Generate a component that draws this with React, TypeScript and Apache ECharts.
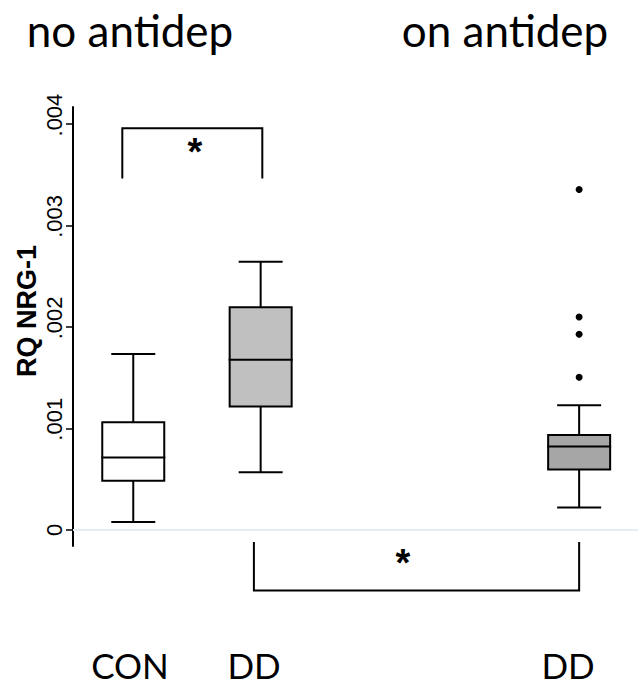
import React, { useEffect, useRef } from "react";
import * as echarts from "echarts";

// ---- data ----
const groups = ["CON", "DD", "DD"];
const groupPos = [1, 2, 4.5];
const whiskerLow = [0.000076, 0.000568, 0.00022];
const q1 = [0.000483, 0.001215, 0.000594];
const median = [0.000712, 0.001678, 0.000821];
const q3 = [0.001061, 0.002194, 0.000936];
const whiskerHigh = [0.001734, 0.002644, 0.001228];
const outlierGroup = [2, 2, 2, 2];
const outlierValues = [0.003357, 0.002099, 0.001928, 0.001504];
const yTicks = [0, 0.001, 0.002, 0.003, 0.004];
const gridValues = [0, 0.001, 0.002, 0.003];
const panelTitles = ["no antidep", "on antidep"];
const yTitle = "RQ NRG-1";
// significance brackets (positions in data units)
const bracketFrom = [0.914, 1.947];
const bracketTo = [2.013, 4.5];
const bracketBar = [0.00396, -0.000598];
const bracketEnd = [0.003465, -0.000121];
const starX = [1.484, 3.117];
const starY = [0.003764, -0.000286];
const bracketLabels = ["*", "*"];

// ---- styles ----
const boxFills = ["#ffffff", "#c0c0c0", "#a6a6a6"];
const SANS = "'Liberation Sans', Arial, sans-serif";
const NARROW = "'Liberation Sans Narrow', 'Arial Narrow', 'Liberation Sans', sans-serif";
const TITLE_FONT = "Lato, 'Open Sans', sans-serif";

export default function App() {
  const ref = useRef<HTMLDivElement>(null);

  useEffect(() => {
    if (!ref.current) return;
    const chart = echarts.init(ref.current, null, { renderer: "svg" });

    const boxData = groups.map((g, i) => [
      groupPos[i],
      whiskerLow[i],
      q1[i],
      median[i],
      q3[i],
      whiskerHigh[i],
      i,
    ]);

    const outlierData = outlierValues.map((v, i) => [groupPos[outlierGroup[i]], v]);

    const bracketData = bracketFrom.map((x1, i) => [
      x1,
      bracketTo[i],
      bracketBar[i],
      bracketEnd[i],
      starX[i],
      starY[i],
      i,
    ]);

    const option: any = {
      animation: false,
      backgroundColor: "#ffffff",
      grid: { left: 73, right: 0, top: 107, bottom: 141, containLabel: false },
      xAxis: {
        type: "value",
        min: 0.527,
        max: 4.962,
        show: false,
        splitLine: { show: false },
      },
      yAxis: {
        type: "value",
        min: -0.00016,
        max: 0.00417,
        axisLine: { show: true, onZero: false, lineStyle: { color: "#000", width: 2 } },
        axisTick: {
          show: true,
          customValues: yTicks,
          length: 7,
          lineStyle: { color: "#000", width: 1.5 },
        },
        axisLabel: {
          show: true,
          customValues: yTicks,
          rotate: 90,
          margin: 8,
          color: "#000",
          fontSize: 22,
          fontFamily: NARROW,
          formatter: (v: number) =>
            v === 0 ? "0" : "\u00a0\u00a0\u00a0" + String(v).replace(/^0/, ""),
        },
        splitLine: { show: false },
      },
      graphic: [
        {
          type: "text",
          x: 130,
          y: 30,
          style: {
            text: panelTitles[0],
            font: `44px ${TITLE_FONT}`,
            fill: "#000",
            textAlign: "center",
            textVerticalAlign: "middle",
          },
        },
        {
          type: "text",
          x: 505,
          y: 30,
          style: {
            text: panelTitles[1],
            font: `44px ${TITLE_FONT}`,
            fill: "#000",
            textAlign: "center",
            textVerticalAlign: "middle",
          },
        },
        {
          type: "text",
          x: 27,
          y: 311,
          rotation: Math.PI / 2,
          style: {
            text: yTitle,
            font: `bold 27px ${SANS}`,
            fill: "#000",
            textAlign: "center",
            textVerticalAlign: "middle",
          },
        },
        ...[130, 254, 568].map((cx, i) => ({
          type: "text",
          x: cx,
          y: 665,
          style: {
            text: groups[i],
            font: `35px ${TITLE_FONT}`,
            fill: "#000",
            textAlign: "center",
            textVerticalAlign: "middle",
          },
        })),
      ],
      series: [
        {
          type: "scatter",
          data: [],
          silent: true,
          markLine: {
            silent: true,
            symbol: "none",
            label: { show: false },
            lineStyle: { color: "#e6edf2", width: 2, type: "solid" },
            data: gridValues.map((v) => ({ yAxis: v })),
          },
        },
        {
          type: "custom",
          clip: false,
          data: boxData,
          renderItem: (params: any, api: any) => {
            const x = api.value(0);
            const pLo = api.coord([x, api.value(1)]);
            const pQ1 = api.coord([x, api.value(2)]);
            const pMed = api.coord([x, api.value(3)]);
            const pQ3 = api.coord([x, api.value(4)]);
            const pHi = api.coord([x, api.value(5)]);
            const idx = api.value(6);
            const cx = pMed[0];
            const hw = 31;
            const cw = 22;
            const ls = { stroke: "#000", lineWidth: 2 };
            return {
              type: "group",
              children: [
                { type: "line", shape: { x1: cx, y1: pHi[1], x2: cx, y2: pQ3[1] }, style: ls },
                { type: "line", shape: { x1: cx, y1: pQ1[1], x2: cx, y2: pLo[1] }, style: ls },
                { type: "line", shape: { x1: cx - cw, y1: pHi[1], x2: cx + cw, y2: pHi[1] }, style: ls },
                { type: "line", shape: { x1: cx - cw, y1: pLo[1], x2: cx + cw, y2: pLo[1] }, style: ls },
                {
                  type: "rect",
                  shape: { x: cx - hw, y: pQ3[1], width: hw * 2, height: pQ1[1] - pQ3[1] },
                  style: { fill: boxFills[idx], stroke: "#000", lineWidth: 2 },
                },
                { type: "line", shape: { x1: cx - hw - 1, y1: pMed[1], x2: cx + hw + 1, y2: pMed[1] }, style: ls },
              ],
            };
          },
        },
        {
          type: "scatter",
          data: outlierData,
          symbol: "circle",
          symbolSize: 7,
          itemStyle: { color: "#000", opacity: 1 },
        },
        {
          type: "custom",
          clip: false,
          data: bracketData,
          renderItem: (params: any, api: any) => {
            const x1 = api.value(0);
            const x2 = api.value(1);
            const yb = api.value(2);
            const ye = api.value(3);
            const a = api.coord([x1, ye]);
            const b = api.coord([x1, yb]);
            const c = api.coord([x2, yb]);
            const d = api.coord([x2, ye]);
            const s = api.coord([api.value(4), api.value(5)]);
            const idx = api.value(6);
            return {
              type: "group",
              children: [
                {
                  type: "polyline",
                  shape: { points: [a, b, c, d] },
                  style: { stroke: "#000", lineWidth: 2, fill: "none" },
                },
                {
                  type: "text",
                  x: s[0],
                  y: s[1] + 4,
                  style: {
                    text: bracketLabels[idx],
                    font: `bold 38px ${SANS}`,
                    fill: "#000",
                    textAlign: "center",
                    textVerticalAlign: "middle",
                  },
                },
              ],
            };
          },
        },
      ],
    };

    chart.setOption(option);
    return () => chart.dispose();
  }, []);

  return (
    <div
      ref={ref}
      style={{ position: "absolute", left: 0, top: 0, width: 638, height: 687 }}
    />
  );
}
